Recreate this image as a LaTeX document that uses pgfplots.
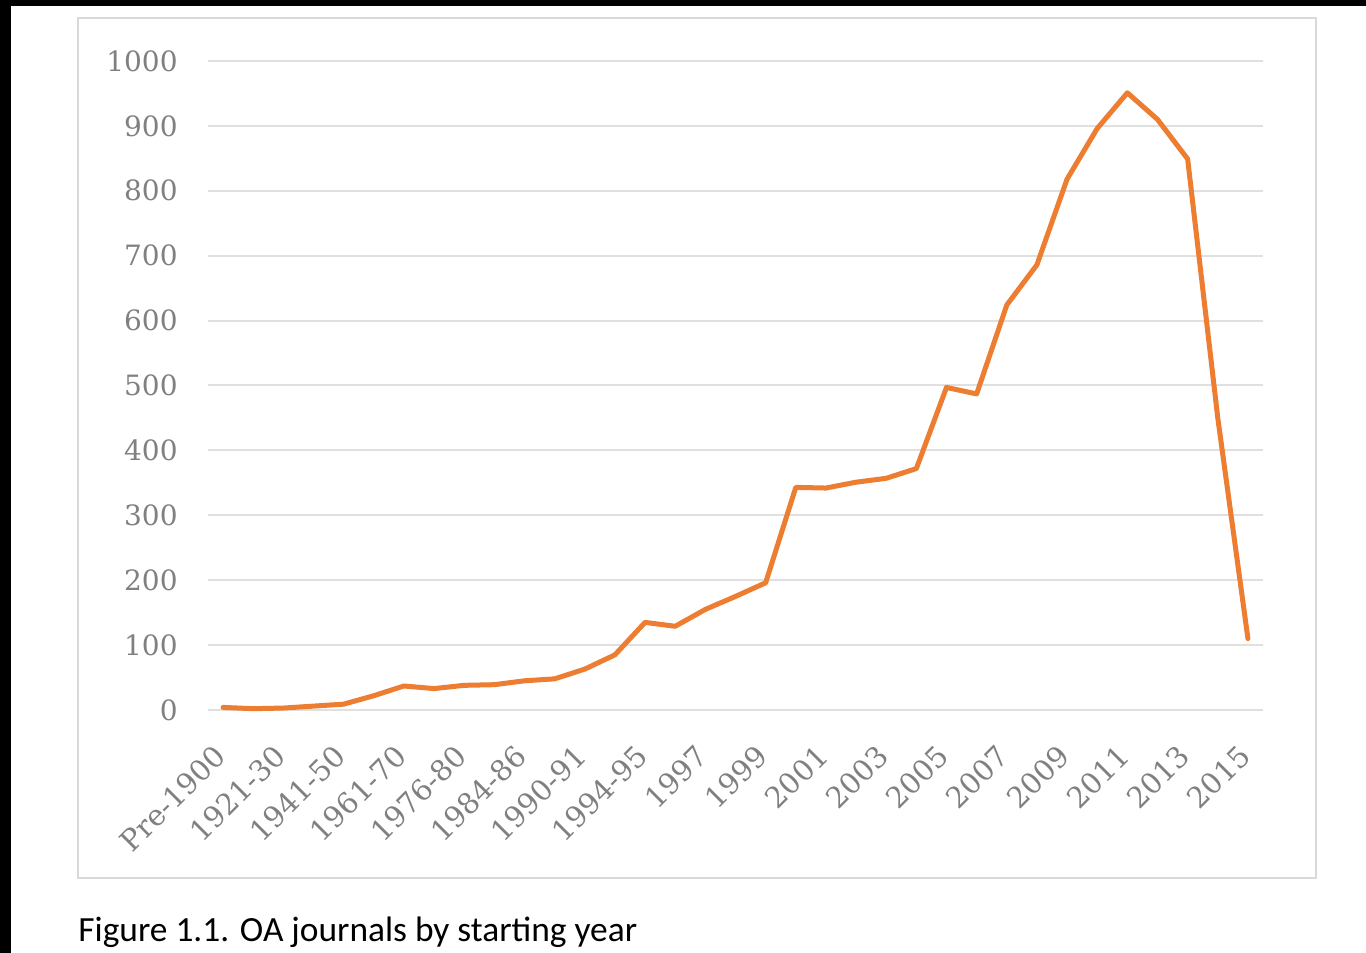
\documentclass[border=0pt]{standalone}
\usepackage{fontspec}
\setmainfont{DejaVu Serif}
\newfontfamily\capfont{Carlito}
\usepackage{pgfplots}
\pgfplotsset{compat=1.18}
\definecolor{lineorange}{HTML}{ED7D31}
\definecolor{gridgray}{HTML}{E0E0E0}
\definecolor{framegray}{HTML}{D9D9D9}
\definecolor{labelgray}{HTML}{808080}
\begin{document}
\begin{tikzpicture}
% page background with black strips on top and left
\fill[black] (0pt,0pt) rectangle (683pt,476.5pt);
\fill[white] (5.5pt,0pt) rectangle (683pt,473.5pt);
% chart area frame
\draw[framegray, line width=1.2pt] (39pt,37.5pt) rectangle (658pt,467.5pt);
\begin{axis}[
  at={(104pt,121.5pt)}, anchor=south west,
  scale only axis, width=527.5pt, height=324.5pt,
  xmin=-0.5, xmax=34.5, ymin=0, ymax=1000,
  axis line style={draw=none},
  tick style={draw=none},
  ytick={0,100,...,1000},
  xtick={0,2,...,34},
  xticklabels={Pre-1900,1921-30,1941-50,1961-70,1976-80,1984-86,1990-91,1994-95,1997,1999,2001,2003,2005,2007,2009,2011,2013,2015},
  ymajorgrids,
  grid style={draw=gridgray, line width=1pt},
  /pgf/number format/assume math mode=true,
  /pgf/number format/1000 sep={},
  yticklabel style={anchor=east, inner sep=0pt, xshift=-15pt, text=labelgray, font=\fontsize{14}{14}\selectfont},
  xticklabel style={xshift=-1.5pt, yshift=-20.5pt, rotate=45, anchor=east, inner sep=0pt, text=labelgray, font=\fontsize{14.5}{14.5}\selectfont},
  clip=false,
]
\addplot[color=lineorange, line width=2.5pt, line join=round, line cap=round, mark=none] coordinates {
(0,4) (1,2) (2,3) (3,6) (4,9) (5,22) (6,37) (7,33) (8,38) (9,39)
(10,45) (11,48) (12,63) (13,85) (14,135) (15,129) (16,155) (17,175) (18,196) (19,343)
(20,342) (21,351) (22,357) (23,372) (24,497) (25,487) (26,624) (27,686) (28,818) (29,896)
(30,951) (31,910) (32,849) (33,450) (34,110)
};
\end{axis}
\node[anchor=base west, inner sep=0pt, font=\capfont\fontsize{17.7}{17.7}\selectfont] at (39pt,5.5pt) {Figure 1.1. OA journals by starting year};
\end{tikzpicture}
\end{document}
